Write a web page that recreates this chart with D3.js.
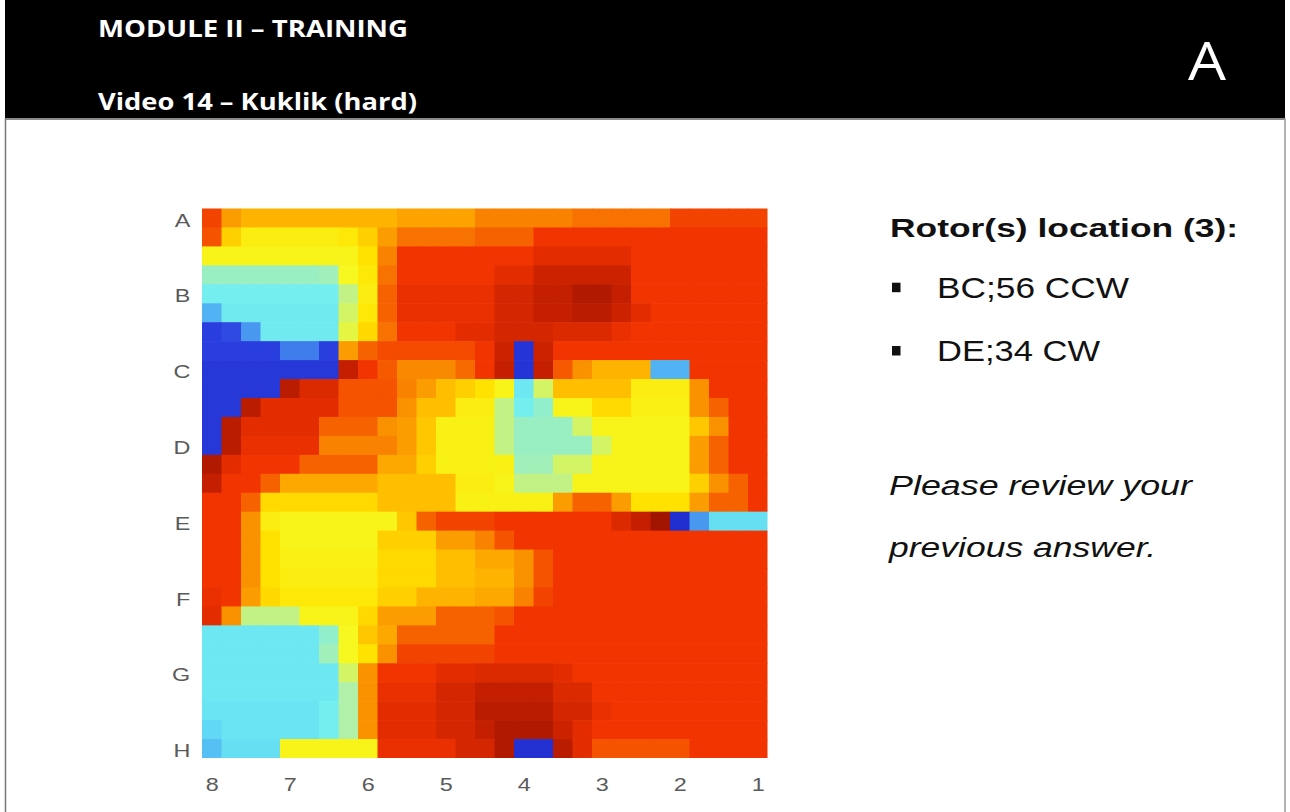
<!DOCTYPE html>
<html>
<head>
<meta charset="utf-8">
<script src="https://cdn.jsdelivr.net/npm/d3@7"></script>
<style>
  body { margin: 0; background: #ffffff; }
  svg { display: block; }
</style>
</head>
<body>
<svg id="slide" width="1290" height="812"></svg>
<script>
// Electrode grid labels (8 x 8 grid, interpolated to 29 x 29 cells)
const rowLabels = ["A", "B", "C", "D", "E", "F", "G", "H"];
const colLabels = ["8", "7", "6", "5", "4", "3", "2", "1"];

// Interpolated map values, 0 (deep blue) .. 100 (dark red); one array per row, top to bottom
const mapValues = [
  [88,76,72,72,72,72,72,72,72,72,75,75,75,75,80,80,80,80,80,82,82,82,82,82,88,88,88,88,88],
  [86,66,58,58,58,58,58,60,66,76,82,82,82,82,84,84,84,90,90,90,90,90,90,90,90,90,90,90,90],
  [56,56,56,56,56,56,56,56,62,80,90,90,90,90,90,90,90,92,92,92,92,92,90,90,90,90,90,90,90],
  [43,43,43,43,43,43,44,54,60,82,90,90,90,90,90,92,92,95,95,95,95,95,90,90,90,90,90,90,90],
  [38,38,38,38,38,38,38,48,58,84,91,91,91,91,91,94,94,96,96,98,98,96,90,90,90,90,90,90,90],
  [26,37,37,37,37,37,37,50,60,84,91,91,91,91,91,94,94,96,96,97,97,95,92,90,90,90,90,90,90],
  [8,10,22,37,37,37,37,52,64,82,90,90,90,92,92,94,94,94,93,93,93,91,90,90,90,90,90,90,90],
  [8,8,8,8,18,18,8,76,84,87,87,87,87,87,90,95,5,95,90,90,90,90,90,90,90,90,90,90,90],
  [6,6,6,6,6,6,6,96,90,85,79,79,79,83,90,96,5,96,85,78,72,72,72,26,26,90,90,90,90],
  [6,6,6,6,97,93,93,86,86,86,80,76,70,66,62,56,36,50,70,70,70,70,58,58,58,78,90,90,90],
  [6,6,97,92,92,92,92,86,86,86,78,70,70,58,58,48,38,42,56,56,64,64,57,57,57,78,84,90,90],
  [6,97,92,92,92,92,84,84,84,78,76,68,57,57,57,48,43,43,43,50,56,56,56,56,56,68,78,90,90],
  [6,97,91,91,91,91,80,80,80,80,76,68,57,57,57,48,43,43,43,43,50,56,56,56,56,76,84,90,90],
  [98,92,90,90,90,84,84,84,84,74,74,66,57,57,57,57,44,44,50,50,56,56,56,56,56,76,84,90,90],
  [96,90,90,84,74,74,74,74,74,70,70,70,70,58,58,56,48,48,48,56,56,56,56,56,56,66,78,84,90],
  [90,90,84,64,64,64,64,64,64,70,70,70,70,57,57,57,57,57,76,84,84,76,62,62,62,76,84,84,90],
  [90,90,78,58,56,56,56,56,56,56,68,84,88,88,88,90,90,90,90,90,90,93,96,100,3,22,34,34,34],
  [90,90,78,62,56,56,56,56,56,66,66,66,76,76,80,86,90,90,90,90,90,90,90,90,90,90,90,90,90],
  [90,90,78,62,57,57,57,57,57,64,64,64,70,70,74,74,78,86,90,90,90,90,90,90,90,90,90,90,90],
  [90,90,78,62,58,58,58,58,58,64,64,64,70,70,72,72,78,86,90,90,90,90,90,90,90,90,90,90,90],
  [91,90,76,64,60,60,60,60,60,66,66,72,72,72,74,74,80,88,90,90,90,90,90,90,90,90,90,90,90],
  [92,78,48,48,48,56,56,56,64,76,76,76,84,84,84,86,90,90,90,90,90,90,90,90,90,90,90,90,90],
  [36,36,36,36,36,36,42,54,68,74,84,84,84,84,84,90,90,90,90,90,90,90,90,90,90,90,90,90,90],
  [36,36,36,36,36,36,44,54,62,78,88,88,88,88,88,90,90,90,90,90,90,90,90,90,90,90,90,90,90],
  [36,36,36,36,36,36,36,50,78,90,90,90,92,92,93,93,93,93,92,90,90,90,90,90,90,90,90,90,90],
  [36,36,36,36,36,36,36,46,78,91,91,91,94,94,96,96,96,96,93,93,90,90,90,90,90,90,90,90,90],
  [35,35,35,35,35,35,38,46,78,92,92,92,94,94,97,97,97,97,94,94,91,90,90,90,90,90,90,90,90],
  [32,35,35,35,35,35,38,46,78,92,92,92,94,94,96,98,98,98,95,92,90,90,90,90,90,90,90,90,90],
  [28,34,34,34,56,56,56,56,56,91,91,91,91,94,94,98,4,4,97,92,86,86,86,86,86,90,90,90,90]
];

// Jet-like colour ramp
const colorStops = [0, 8, 16, 24, 32, 38, 46, 54, 62, 70, 78, 84, 90, 95, 100];
const colorRange = ["#1c24c4", "#2a3ee0", "#3a6eea", "#4ca6f2", "#60d8f6", "#74eeee",
                    "#b0f0a8", "#f6f820", "#ffe200", "#ffbe00", "#fa9200", "#f66200",
                    "#f23400", "#cc2200", "#a01400"];

// Side panel text
const heading = "Rotor(s) location (3):";
const rotorItems = ["BC;56 CCW", "DE;34 CW"];
const noteLines = ["Please review your", "previous answer."];

const svg = d3.select("#slide");

// ---- slide frame and header bar ----
svg.append("rect").attr("x", 5).attr("y", 0).attr("width", 1280).attr("height", 118).attr("fill", "#000");
svg.append("line").attr("x1", 5).attr("x2", 1285).attr("y1", 119).attr("y2", 119)
  .attr("stroke", "#8a8a8a").attr("stroke-width", 2);
svg.append("line").attr("x1", 5.5).attr("x2", 5.5).attr("y1", 118).attr("y2", 812)
  .attr("stroke", "#777").attr("stroke-width", 1.5);
svg.append("line").attr("x1", 1285).attr("x2", 1285).attr("y1", 118).attr("y2", 812)
  .attr("stroke", "#999").attr("stroke-width", 1.5);

const headerFont = "'Open Sans', 'Noto Sans', sans-serif";
svg.append("text").attr("x", 98).attr("y", 37)
  .attr("font-family", headerFont).attr("font-weight", 700).attr("font-size", 23)
  .attr("fill", "#fff").attr("textLength", 310).attr("lengthAdjust", "spacingAndGlyphs")
  .text("MODULE II \u2013 TRAINING");
svg.append("text").attr("x", 98).attr("y", 110)
  .attr("font-family", headerFont).attr("font-weight", 700).attr("font-size", 24)
  .attr("fill", "#fff").attr("textLength", 319).attr("lengthAdjust", "spacingAndGlyphs")
  .text("Video 14 \u2013 Kuklik (hard)");
svg.append("text").attr("x", 1188).attr("y", 80)
  .attr("font-family", headerFont).attr("font-weight", 400).attr("font-size", 53)
  .attr("fill", "#fff").attr("textLength", 38).attr("lengthAdjust", "spacingAndGlyphs")
  .text("A");

// ---- heat map ----
const nRows = mapValues.length;
const nCols = mapValues[0].length;
const plot = { left: 202, right: 767.5, top: 208.5, bottom: 758 };

const x = d3.scaleBand().domain(d3.range(nCols)).range([plot.left, plot.right]);
const y = d3.scaleBand().domain(d3.range(nRows)).range([plot.top, plot.bottom]);
const color = d3.scaleLinear().domain(colorStops).range(colorRange).interpolate(d3.interpolateRgb).clamp(true);

const cells = [];
mapValues.forEach((row, r) => row.forEach((v, c) => cells.push({ r, c, v })));

const map = svg.append("g").attr("class", "heatmap");
map.selectAll("rect")
  .data(cells)
  .join("rect")
  .attr("x", d => x(d.c))
  .attr("y", d => y(d.r))
  .attr("width", d => x.bandwidth() + (d.c < nCols - 1 ? 0.6 : 0))
  .attr("height", d => y.bandwidth() + (d.r < nRows - 1 ? 0.6 : 0))
  .attr("fill", d => color(d.v));

// ---- axes: electrode labels at every 4th interpolated cell ----
const xLabels = d3.scalePoint().domain(colLabels)
  .range([x(0) + x.bandwidth() / 2, x(nCols - 1) + x.bandwidth() / 2]);
const yLabels = d3.scalePoint().domain(rowLabels)
  .range([y(0) + y.bandwidth() / 2, y(nRows - 1) + y.bandwidth() / 2]);

const axisFont = "'Liberation Sans', Arial, sans-serif";
const xAxis = svg.append("g").attr("transform", `translate(0,${plot.bottom})`)
  .call(d3.axisBottom(xLabels).tickSize(0).tickPadding(20));
const yAxis = svg.append("g").attr("transform", `translate(${plot.left},0)`)
  .call(d3.axisLeft(yLabels).tickSize(0).tickPadding(9));

[xAxis, yAxis].forEach(g => {
  g.select(".domain").remove();
  g.selectAll("text")
    .attr("font-family", axisFont).attr("font-size", 18).attr("fill", "#5a5a5a")
    .attr("transform", "scale(1.3,1)");
});
yAxis.selectAll("text").attr("dy", "0.45em");

// ---- side panel ----
const panelFont = "'Liberation Sans', Arial, sans-serif";
svg.append("text").attr("x", 890).attr("y", 236.7)
  .attr("font-family", panelFont).attr("font-weight", 700).attr("font-size", 25.5)
  .attr("fill", "#111").attr("textLength", 348).attr("lengthAdjust", "spacingAndGlyphs")
  .text(heading);

const itemWidths = [192, 163];
rotorItems.forEach((t, i) => {
  const base = 297.7 + i * 63.3;
  svg.append("rect").attr("x", 892).attr("y", base - 15).attr("width", 8.5).attr("height", 9.5).attr("fill", "#111");
  svg.append("text").attr("x", 937).attr("y", base)
    .attr("font-family", panelFont).attr("font-size", 29.3).attr("fill", "#111")
    .attr("textLength", itemWidths[i]).attr("lengthAdjust", "spacingAndGlyphs")
    .text(t);
});

const noteWidths = [303, 267];
noteLines.forEach((t, i) => {
  svg.append("text").attr("x", 889).attr("y", 495 + i * 61.7)
    .attr("font-family", panelFont).attr("font-style", "italic").attr("font-size", 27)
    .attr("fill", "#111").attr("textLength", noteWidths[i]).attr("lengthAdjust", "spacingAndGlyphs")
    .text(t);
});
</script>
</body>
</html>
